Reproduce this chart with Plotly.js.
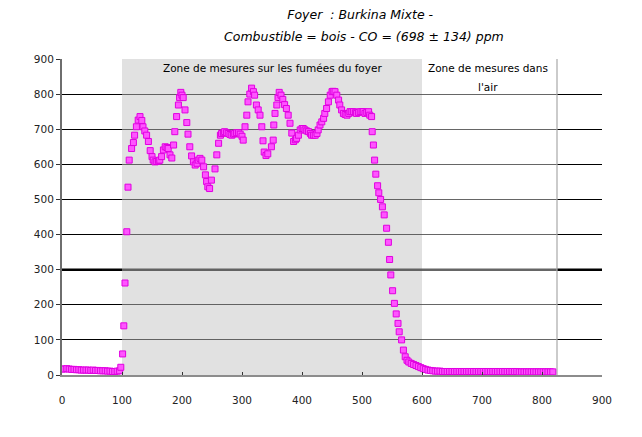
<!DOCTYPE html>
<html>
<head>
<meta charset="utf-8">
<script src="https://cdn.plot.ly/plotly-3.0.1.min.js"></script>
<style>html,body{margin:0;padding:0;background:#fff;}#chart{width:642px;height:437px;}</style>
</head>
<body>
<div id="chart"></div>
<script>
// Time (s) – baseline before the hearth zone
const xBase = [0,4,8,12,16,20,24,28,32,36,40,44,48,52,56,60,64,68,72,76,80,84,88,92,96];
const yBase = [17,17,18,17,16,16,15,15,14,14,14,14,13,14,13,13,12,12,12,11,11,10,10,11,12];

// Measurements on the hearth fumes
const xFumes = [98,101,103,105,108,110,112,116,119,121,124,127,130,133,135,138,141,144,147,150,152,155,158,161,163,166,169,172,175,177,180,183,186,188,191,194,196,198,200,202,205,208,210,213,216,219,222,225,227,230,233,236,239,241,243,246,249,255,258,261,264,266,269,271,274,277,280,283,286,288,291,294,297,300,302,305,308,310,313,316,319,321,324,327,330,333,335,337,340,343,349,352,353,355,358,360,362,365,368,371,374,377,380,383,386,389,391,394,397,400,402,405,408,411,414,416,419,422,425,427,430,433,436,438,441,444,447,450,452,455,458,461,463,466,469,472,475,478,480,483,486,489,491,494,497,500,502,505,508,511,513,516,517,519,521,523,526,528,531,534,537,541,544,546,548,551,554,557,560,562,566,569,572,575,578,582,586,590,594,598,602,606,610,614,618,622];
const yFumes = [22,60,140,262,408,535,612,645,662,683,707,726,736,725,707,695,683,665,639,622,612,607,608,610,612,622,641,650,648,645,627,618,655,693,736,769,790,805,797,790,755,719,686,650,624,607,598,603,612,617,612,593,570,551,536,531,555,587,627,660,683,688,690,693,690,688,685,683,686,688,690,690,686,680,669,707,740,778,800,817,807,797,769,755,740,707,667,635,625,630,650,669,712,745,769,790,805,797,785,770,759,740,717,689,665,670,674,683,698,702,702,698,695,693,688,683,683,683,688,698,712,721,731,745,759,778,797,807,808,807,797,783,769,755,745,742,740,745,750,750,750,747,745,748,750,750,750,745,748,750,740,736,693,655,612,572,539,519,500,479,456,418,378,329,285,240,204,174,147,123,100,71,52,42,37,33,30,27,24,21,18,16,14,13,12,11];

// Measurements in the air
const xAir = [626,630,634,638,642,646,650,654,658,662,666,670,674,678,682,686,690,694,698,702,706,710,714,718,722,726,730,734,738,742,746,750,754,758,762,766,770,774,778,782,786,790,794,798,802,806,810,814,818];
const yAir = [11,11,10,10,10,10,10,10,10,10,10,10,10,10,10,10,10,10,10,10,10,10,10,10,10,10,10,10,10,10,10,10,10,10,9,9,9,9,9,9,9,9,9,9,9,9,9,9,9];

const xTicks = [0,100,200,300,400,500,600,700,800,900];
const yTicks = [0,100,200,300,400,500,600,700,800,900];

const titleLine1 = 'Foyer \u00a0: Burkina Mixte -';
const titleLine2 = 'Combustible = bois - CO = (698 \u00b1 134) ppm';
const zoneFumesLabel = 'Zone de mesures sur les fum\u00e9es du foyer';
const zoneAirLabel1 = 'Zone de mesures dans';
const zoneAirLabel2 = 'l\'air';

const xAll = xBase.concat(xFumes, xAir);
const yAll = yBase.concat(yFumes, yAir);

const trace = {
  x: xAll, y: yAll, type: 'scatter', mode: 'markers',
  marker: {symbol: 'square', size: 6, color: '#ff55ff', line: {color: '#e000e0', width: 1}},
  hoverinfo: 'none', showlegend: false
};

const comic = 'DejaVu Sans';
const zoneFont = {family: comic, size: 10.5, color: '#000'};
const layout = {
  width: 642, height: 437,
  margin: {l: 62, r: 40, t: 59, b: 62},
  paper_bgcolor: '#ffffff', plot_bgcolor: '#ffffff',
  title: {text: titleLine1, font: {family: comic, size: 12.5, color: '#000', style: 'italic'},
          xref: 'container', x: 0.561, xanchor: 'center', yref: 'container', y: 0.966, yanchor: 'middle'},
  xaxis: {range: [0, 900], tickvals: xTicks, ticktext: xTicks.map(String), showgrid: false, zeroline: false,
          showline: true, linecolor: '#8c8c8c', linewidth: 2, ticks: 'inside', ticklen: 3, tickcolor: '#333',
          ticklabelstandoff: 14, tickfont: {family: 'DejaVu Sans', size: 10.5, color: '#222'}},
  yaxis: {range: [0, 900], tickvals: yTicks, ticktext: yTicks.map(String), showgrid: true, gridcolor: '#000000', gridwidth: 1,
          zeroline: false, showline: true, linecolor: '#6e6e6e', linewidth: 2, ticks: 'outside', ticklen: 4, tickcolor: '#333',
          tickfont: {family: 'DejaVu Sans', size: 10.5, color: '#222'}},
  shapes: [
    {type: 'line', xref: 'x', yref: 'y', x0: 0, x1: 900, y0: 300, y1: 300, line: {color: '#000', width: 2.5}, layer: 'below'},
    {type: 'rect', xref: 'x', yref: 'y', x0: 100, x1: 600, y0: 0, y1: 900, fillcolor: 'rgba(195,195,195,0.5)', line: {width: 0}, layer: 'between'},
    {type: 'rect', xref: 'x', yref: 'y', x0: 600, x1: 825, y0: 0, y1: 900, fillcolor: 'rgba(255,255,255,0.4)', line: {width: 0}, layer: 'between'},
    {type: 'line', xref: 'x', yref: 'y', x0: 825, x1: 825, y0: 0, y1: 900, line: {color: '#a8a8a8', width: 1.2}, layer: 'between'}
  ],
  annotations: [
    {text: titleLine2, xref: 'paper', yref: 'paper', x: 0.559, y: 1.07, xanchor: 'center', yanchor: 'middle', showarrow: false,
     font: {family: comic, size: 12.5, color: '#000', style: 'italic'}},
    {text: zoneFumesLabel, xref: 'x', yref: 'y', x: 350, y: 874, xanchor: 'center', yanchor: 'middle', showarrow: false, font: zoneFont},
    {text: zoneAirLabel1, xref: 'x', yref: 'y', x: 710, y: 874, xanchor: 'center', yanchor: 'middle', showarrow: false, font: zoneFont},
    {text: zoneAirLabel2, xref: 'x', yref: 'y', x: 710, y: 820, xanchor: 'center', yanchor: 'middle', showarrow: false, font: zoneFont}
  ]
};

Plotly.newPlot('chart', [trace], layout, {displayModeBar: false, staticPlot: true});
</script>
</body>
</html>
